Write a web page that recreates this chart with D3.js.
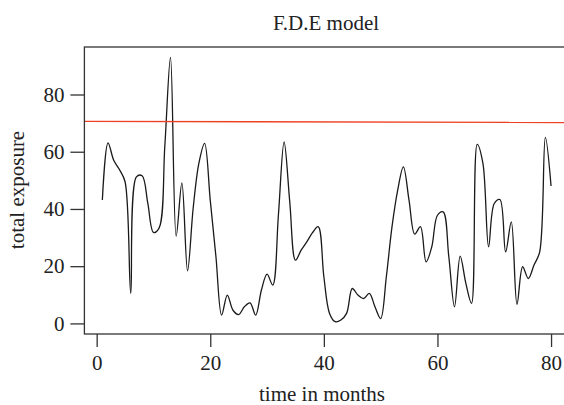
<!DOCTYPE html>
<html>
<head>
<meta charset="utf-8">
<script src="https://cdn.jsdelivr.net/npm/d3@7"></script>
<style>
  html, body { margin: 0; padding: 0; background: #fff; }
  svg { display: block; }
  text { font-family: "Liberation Serif", "DejaVu Serif", serif; fill: #222; }
</style>
</head>
<body>
<svg id="chart" width="564" height="405"></svg>
<script>
// ---- data ----
const months = d3.range(1, 81);
const exposure = [
  43.1, 63.1, 57.0, 53.8, 49.5, 10.5, 51.2, 51.6, 42.0, 31.8,
  33.4, 62.0, 93.0, 30.5, 49.1, 18.4, 40.5, 56.0, 62.9, 43.0,
  23.3, 2.9, 9.9, 4.6, 3.1, 5.8, 7.2, 2.9, 11.6, 17.2,
  13.4, 38.0, 63.4, 42.4, 22.1, 25.6, 28.5, 31.7, 33.8, 16.3,
  3.5, 0.6, 1.2, 3.5, 12.2, 9.9, 8.7, 10.5, 5.8, 1.7,
  16.3, 33.8, 46.6, 54.7, 43.0, 31.2, 33.8, 21.5, 26.8, 37.8,
  39.0, 23.3, 5.8, 23.5, 14.0, 7.0, 62.6, 56.0, 26.8, 41.9,
  43.3, 25.0, 35.5, 6.7, 19.8, 15.7, 20.4, 25.0, 65.0, 48.0
];
const thresholdStart = 70.6;   // red reference line, left end
const thresholdEnd = 70.2;     // red reference line, right end
const xTicks = [0, 20, 40, 60, 80];
const yTicks = [0, 20, 40, 60, 80];
const titleText = "F.D.E model";
const xLabel = "time in months";
const yLabel = "total exposure";

// ---- layout ----
const svg = d3.select("#chart");
const xDomain = [-2.16, 83.16];
const x = d3.scaleLinear().domain(xDomain).range([84.4, 569]);
const y = d3.scaleLinear().domain([-3.7, 96.6]).range([334, 47]);

const fontSize = 21;

svg.append("clipPath").attr("id", "plotclip")
  .append("rect").attr("x", 84.4).attr("y", 47).attr("width", 569 - 84.4).attr("height", 334 - 47);

const line = d3.line()
  .x((d, i) => x(months[i]))
  .y(d => y(d))
  .curve(d3.curveCatmullRom.alpha(0.5));

svg.append("path")
  .datum(exposure)
  .attr("d", line)
  .attr("fill", "none")
  .attr("stroke", "#1a1a1a")
  .attr("stroke-width", 1.3)
  .attr("stroke-linejoin", "round")
  .attr("clip-path", "url(#plotclip)");

svg.append("line")
  .attr("x1", x(xDomain[0])).attr("x2", x(xDomain[1]))
  .attr("y1", y(thresholdStart)).attr("y2", y(thresholdEnd))
  .attr("stroke", "#ee4123")
  .attr("stroke-width", 1.4);

svg.append("rect")
  .attr("x", 84.4).attr("y", 47)
  .attr("width", 569 - 84.4).attr("height", 334 - 47)
  .attr("fill", "none")
  .attr("stroke", "#333")
  .attr("stroke-width", 1.3);

const yAxis = d3.axisLeft(y).tickValues(yTicks).tickSize(14).tickPadding(6).tickFormat(d3.format("d"));
const gy = svg.append("g").attr("transform", "translate(84.4,0)").call(yAxis);
gy.select(".domain").remove();
gy.selectAll(".tick line").attr("stroke", "#333").attr("stroke-width", 1.3);
gy.selectAll(".tick text").style("font-size", fontSize + "px").attr("fill", "#222")
  .style("font-family", "'Liberation Serif', serif");

const xAxis = d3.axisBottom(x).tickValues(xTicks).tickSize(13).tickPadding(8).tickFormat(d3.format("d"));
const gx = svg.append("g").attr("transform", "translate(0,334)").call(xAxis);
gx.select(".domain").remove();
gx.selectAll(".tick line").attr("stroke", "#333").attr("stroke-width", 1.3);
gx.selectAll(".tick text").style("font-size", fontSize + "px").attr("fill", "#222")
  .style("font-family", "'Liberation Serif', serif");

svg.append("text")
  .attr("x", 326).attr("y", 30)
  .attr("text-anchor", "middle")
  .style("font-size", fontSize + "px")
  .text(titleText);

svg.append("text")
  .attr("x", 322).attr("y", 401)
  .attr("text-anchor", "middle")
  .style("font-size", fontSize + "px")
  .text(xLabel);

svg.append("text")
  .attr("transform", "translate(24,190) rotate(-90)")
  .attr("text-anchor", "middle")
  .style("font-size", fontSize + "px")
  .text(yLabel);
</script>
</body>
</html>
